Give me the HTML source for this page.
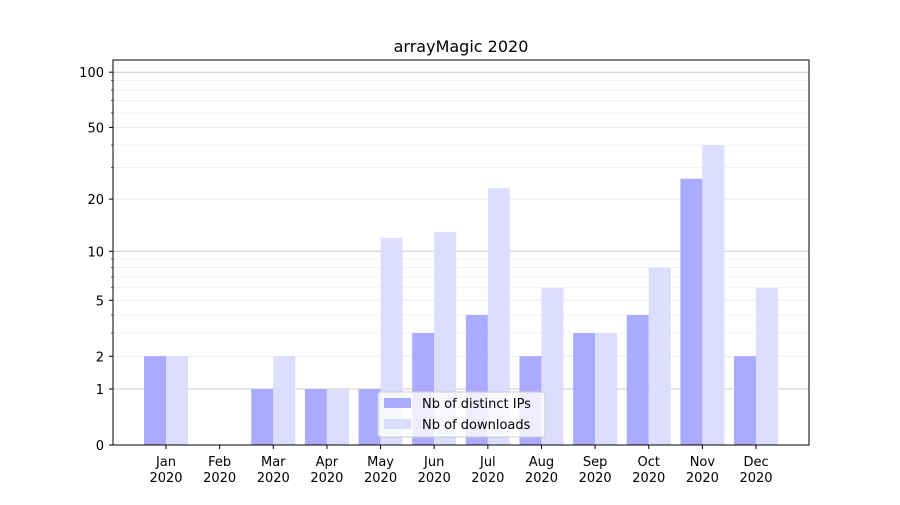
<!DOCTYPE html>
<html><head><meta charset="utf-8"><style>body{margin:0;background:#fff}</style></head>
<body>
<svg width="900" height="500" xmlns="http://www.w3.org/2000/svg" font-family="DejaVu Sans, Liberation Sans, sans-serif" font-size="13">
<rect width="900" height="500" fill="#fff"/>
<g id="grid"></g>
<g id="bars"></g>
<rect x="113" y="60" width="696" height="385" fill="none" stroke="#000" stroke-width="1"/>
<g id="ticks"></g>
<text x="461" y="52" text-anchor="middle" font-size="16">arrayMagic 2020</text>
<g>
<rect x="378" y="392" width="167" height="45" rx="3" fill="#fff" fill-opacity="0.8" stroke="#ccc"/>
<rect x="384" y="398" width="27" height="10" fill="#aaaaff"/>
<text x="422" y="408">Nb of distinct IPs</text>
<rect x="384" y="419" width="27" height="10" fill="#ddddff"/>
<text x="422" y="429">Nb of downloads</text>
</g>
</svg>
<script>
const ns="http://www.w3.org/2000/svg";
function el(p,t,a,txt){const e=document.createElementNS(ns,t);for(const k in a)e.setAttribute(k,a[k]);if(txt!==undefined)e.textContent=txt;document.getElementById(p).appendChild(e);return e;}
const Y=v=>445-186*Math.log10(1+v);
const minor=[3,4,6,7,8,9,30,40,60,70,80,90];
minor.forEach(v=>el("grid","line",{x1:113,x2:809,y1:Y(v),y2:Y(v),stroke:"#eee","stroke-width":0.8}));
[2,5,20,50].forEach(v=>el("grid","line",{x1:113,x2:809,y1:Y(v),y2:Y(v),stroke:"#e6e6e6","stroke-width":0.8}));
[1,10,100].forEach(v=>el("grid","line",{x1:113,x2:809,y1:Y(v),y2:Y(v),stroke:"#ccc","stroke-width":1}));
const ips=[2,0,1,1,1,3,4,2,3,4,26,2], dl=[2,0,2,1,12,13,23,6,3,8,40,6];
const m=["Jan","Feb","Mar","Apr","May","Jun","Jul","Aug","Sep","Oct","Nov","Dec"];
for(let i=0;i<12;i++){
 const c=166+i*53.64;
 if(ips[i]>0) el("bars","rect",{x:c-22,y:Y(ips[i]),width:22,height:445-Y(ips[i]),fill:"#aaaaff"});
 if(dl[i]>0) el("bars","rect",{x:c,y:Y(dl[i]),width:22,height:445-Y(dl[i]),fill:"#ddddff"});
 el("ticks","line",{x1:c,x2:c,y1:445,y2:449,stroke:"#000"});
 el("ticks","text",{x:c,y:466,"text-anchor":"middle"},m[i]);
 el("ticks","text",{x:c,y:482,"text-anchor":"middle"},"2020");
}
[0,1,2,5,10,20,50,100].forEach(v=>{const y=Y(v);
 el("ticks","line",{x1:109,x2:113,y1:y,y2:y,stroke:"#000"});
 el("ticks","text",{x:104,y:y+5,"text-anchor":"end"},String(v));});
minor.forEach(v=>el("ticks","line",{x1:111,x2:113,y1:Y(v),y2:Y(v),stroke:"#000","stroke-width":0.6}));
</script>
</body></html>
